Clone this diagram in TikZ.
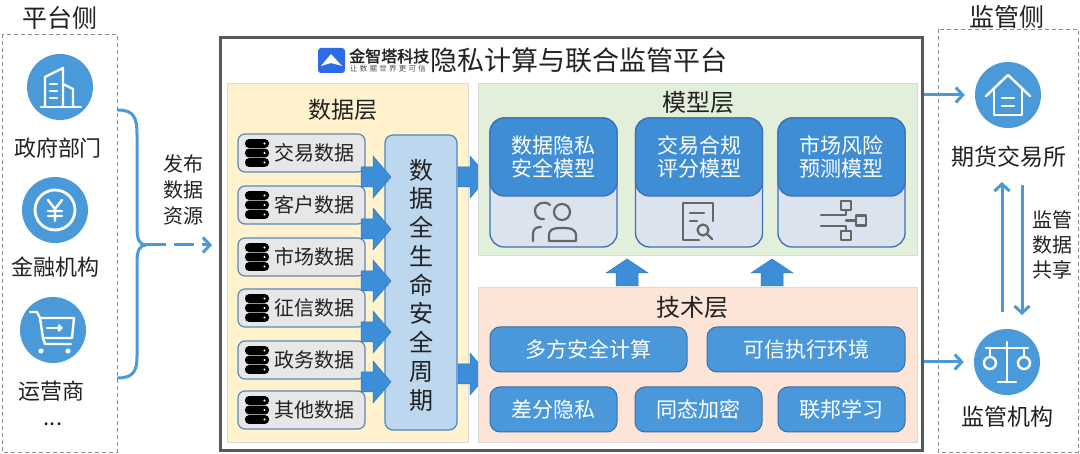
\documentclass[tikz,border=0pt]{standalone}
\usepackage{fontspec}
\setmainfont{Noto Sans CJK SC}[AutoFakeBold=2]
\usetikzlibrary{arrows.meta}
\definecolor{cblue}{HTML}{4A9ADA}
\definecolor{ablue}{HTML}{3D8ED8}
\definecolor{aedge}{HTML}{2F75BA}
\definecolor{mainedge}{HTML}{595959}
\definecolor{dataY}{HTML}{FFF2CC}
\definecolor{modG}{HTML}{E2EFDA}
\definecolor{techP}{HTML}{FCE4D6}
\definecolor{itemG}{HTML}{E7E7E7}
\definecolor{itemE}{HTML}{5B88B5}
\definecolor{lcF}{HTML}{BDD7EE}
\definecolor{lcE}{HTML}{4A86C5}
\definecolor{cardL}{HTML}{DAE3EE}
\definecolor{cardT}{HTML}{3F8DD5}
\definecolor{cardE}{HTML}{3B6FB8}
\definecolor{tboxF}{HTML}{4A98DA}
\definecolor{tboxE}{HTML}{3A6FA8}
\definecolor{icong}{HTML}{666666}
\definecolor{logob}{HTML}{2F6BE6}
\definecolor{txtc}{HTML}{222222}
\newcommand\fsz[2]{\fontsize{#1}{#2}\selectfont}
\newcommand\blkR[1]{\begin{scope}[shift={#1}]\filldraw[blk] (-30,-10) -- (-18,-10) -- (-18,-21) -- (0,0) -- (-18,21) -- (-18,10) -- (-30,10) -- cycle;\end{scope}}
\newcommand\blkU[1]{\begin{scope}[shift={#1}]\filldraw[blk] (-11,27) -- (-11,14) -- (-21,14) -- (0,0) -- (21,14) -- (11,14) -- (11,27) -- cycle;\end{scope}}
\newcommand\dbicon[1]{\begin{scope}[shift={#1}]
  \foreach \k in {-9.5,0,9.5} {\fill[black, rounded corners=4pt] (-12,\k-4.4) rectangle (12,\k+4.4);
  \fill[white] (7.5,\k) circle (1.2);}
\end{scope}}
\begin{document}
\begin{tikzpicture}[x=1pt,y=-1pt,
  txt/.style={inner sep=0pt, text=txtc},
  lbl/.style={txt, font=\fsz{22}{26}},
  circ/.style={circle, fill=cblue, minimum size=66pt, inner sep=0pt},
  dashbox/.style={draw=black!45, line width=0.9pt, dash pattern=on 4pt off 3pt},
  wicon/.style={draw=white, line width=2.4pt, line cap=round, line join=round},
  gicon/.style={draw=icong, line width=2.2pt, line cap=round, line join=round},
  layer/.style={rectangle, draw=black!15, line width=0.8pt, inner sep=0pt},
  item/.style={rectangle, rounded corners=7pt, fill=itemG, draw=itemE, line width=1.2pt, minimum width=127pt, minimum height=38pt, inner sep=0pt},
  blk/.style={fill=ablue, draw=aedge, line width=0.5pt},
  cardbase/.style={rectangle, rounded corners=14pt, fill=cardL, draw=cardE, line width=1.3pt, minimum width=127pt, minimum height=129pt, inner sep=0pt},
  cardtop/.style={rectangle, rounded corners=14pt, fill=cardT, draw=cardE, line width=1.3pt, minimum width=127pt, minimum height=78pt, inner sep=0pt, text=white, font=\fsz{21}{23}, align=center},
  tbox/.style={rectangle, rounded corners=10pt, fill=tboxF, draw=tboxE, line width=1pt, minimum height=45pt, inner sep=0pt, text=white, font=\fsz{21}{23}},
  barrow/.style={draw=cblue, line width=3pt, -{Straight Barb[length=7pt,width=15pt,line width=3pt]}},
  brace/.style={draw=cblue, line width=3pt, line cap=round}]
\useasboundingbox (0,0) rectangle (1080,454);
\fill[white] (0,0) rectangle (1080,454);
% ---------- left: platform side ----------
\node[txt, font=\fsz{25}{28}] (ptitle) at (60,18) {平台侧};
\draw[dashbox] (2,34) rectangle (117,452);
\node[circ] (gov) at (60,87) {};
\node[lbl] (govl) at (58,148) {政府部门};
\node[circ] (fin) at (55,210) {};
\node[lbl] (finl) at (56,267) {金融机构};
\node[circ] (op) at (53,330) {};
\node[lbl] (opl) at (52,391) {运营商};
\node[lbl] (dots) at (53,424) {...};
% building icon
\begin{scope}[shift={(60,87)}]
  \draw[wicon] (-19,20) -- (21,20);
  \draw[wicon] (-15,20) -- (-15,-10) -- (3,-19) -- (3,20);
  \draw[wicon] (3,-3) -- (13,2) -- (13,20);
  \draw[wicon] (-10,-3) -- (-3,-3) (-10,4) -- (-3,4) (-10,11) -- (-3,11);
\end{scope}
% yen icon
\begin{scope}[shift={(55,210)}]
  \draw[wicon, line width=2.8pt] (0,0) circle (20);
  \draw[wicon] (-7,-10) -- (0,-1) -- (7,-10) (0,-1) -- (0,11) (-7,1) -- (7,1) (-7,6) -- (7,6);
\end{scope}
% cart icon
\begin{scope}[shift={(53,330)}]
  \draw[wicon] (-23,-18) -- (-16,-18) -- (-13,-12) -- (21,-12) -- (19,8) -- (-10,8);
  \draw[wicon] (-13,-12) -- (-10,8) -- (-8,14) -- (18,14);
  \fill[white] (-12,21) circle (2.6) (15,21) circle (2.6);
  \draw[wicon, -{Straight Barb[length=3pt,width=6pt]}] (-6,-2) -- (10,-2);
\end{scope}
% brace and publish arrow
\coordinate (btip) at (146,245);
\coordinate (bin) at (212,245);
\draw[brace] (118,110) .. controls (134,110) and (137,118) .. (137,134) -- (137,228) .. controls (137,240) and (140,245) .. (btip);
\draw[brace] (118,378) .. controls (134,378) and (137,370) .. (137,356) -- (137,262) .. controls (137,250) and (140,245) .. (btip);
\draw[barrow, dash pattern=on 20pt off 8pt] (btip) -- (bin);
\node[txt, font=\fsz{20}{26}, align=center] (pub) at (183,190) {发布\\数据\\资源};
% ---------- main platform ----------
\node[rectangle, draw=mainedge, line width=3pt, minimum width=702pt, minimum height=413pt, inner sep=0pt] (main) at (571,244.5) {};
\fill[logob, rounded corners=3pt] (318,48) rectangle (345,73);
\fill[white] (321,66) -- (331,54) -- (342,66) -- (331,63) -- cycle;
\node[txt, anchor=west, font=\bfseries\fsz{16}{16}] (logo) at (349,56) {金智塔科技};
\node[txt, anchor=west, font=\fsz{7.5}{8}\addfontfeature{LetterSpace=30}, text=black!70] (slogan) at (350,68.5) {让数据世界更可信};
\node[txt, font=\fsz{27}{28}] (title) at (579,60) {隐私计算与联合监管平台};
% data layer
\node[layer, fill=dataY, minimum width=241pt, minimum height=359pt] (dl) at (347.5,262.5) {};
\node[txt, font=\fsz{23}{26}] (dlt) at (343,110) {数据层};
\foreach \y/\t/\n in {153/交易数据/d1,205/客户数据/d2,257/市场数据/d3,308/征信数据/d4,360/政务数据/d5,410/其他数据/d6} {
  \node[item] (\n) at (301.5,\y) {};
  \dbicon{(257,\y)}
  \node[txt, anchor=west, font=\fsz{20}{22}] at (274,\y) {\t};
}
\node[rectangle, rounded corners=8pt, fill=lcF, draw=lcE, line width=1.2pt, minimum width=72pt, minimum height=295pt, inner sep=0pt] (lc) at (421,282.5) {};
\node[txt, font=\fsz{24}{28.75}, align=center] (lct) at (421,285) {数\\据\\全\\生\\命\\安\\全\\周\\期};
\foreach \y in {177,229,281,332,382} {\blkR{(391,\y)}}
\blkR{(488,177)}
\blkR{(488,374)}
% model layer
\node[layer, fill=modG, minimum width=439pt, minimum height=172pt] (ml) at (697.5,169) {};
\node[txt, font=\fsz{24}{26}] (mlt) at (698,102) {模型层};
\foreach \x/\t/\n in {553.5/{数据隐私\\安全模型}/m1, 699/{交易合规\\评分模型}/m2, 841.5/{市场风险\\预测模型}/m3} {
  \node[cardbase] (\n) at (\x,182.5) {};
  \node[cardtop] (\n t) at (\x,157) {\t};
}
% person icon
\draw[gicon] (562,212) circle (8);
\draw[gicon] (549,241) -- (549,236) .. controls (549,229) and (553,228) .. (562,228) .. controls (571,228) and (576,229) .. (576,236) -- (576,241) -- cycle;
\draw[gicon] (550,205) .. controls (545,200) and (535,203) .. (535,211) .. controls (535,217) and (540,220) .. (544,219);
\draw[gicon] (533,241) -- (533,234) .. controls (533,229) and (536,227) .. (541,227);
% document icon
\draw[gicon] (699,240) -- (683,240) -- (683,203) -- (713,203) -- (713,221);
\draw[gicon] (690,213) -- (704,213) (690,221) -- (697,221);
\draw[gicon] (703,230) circle (5.5);
\draw[gicon] (707.5,234.5) -- (712,239);
% flow icon
\draw[gicon] (821,215) -- (846,215) -- (846,210);
\draw[gicon] (821,226) -- (846,226) -- (846,231);
\draw[gicon] (841,201) rectangle (851,210);
\draw[gicon] (841,231) rectangle (851,240);
\draw[gicon] (846,220.5) -- (856,220.5);
\draw[gicon] (856,215.5) rectangle (866,225.5);
% up arrows
\blkU{(627,259)}
\blkU{(772,259)}
% tech layer
\node[layer, fill=techP, minimum width=439pt, minimum height=155pt] (tl) at (697.5,364.5) {};
\node[txt, font=\fsz{24}{26}] (tlt) at (692,307) {技术层};
\node[tbox, minimum width=197pt] (t1) at (588.5,349.5) {多方安全计算};
\node[tbox, minimum width=198pt] (t2) at (806,349.5) {可信执行环境};
\node[tbox, minimum width=127pt] (t3) at (553.5,409.5) {差分隐私};
\node[tbox, minimum width=127pt] (t4) at (698.5,409.5) {同态加密};
\node[tbox, minimum width=127pt] (t5) at (841.5,409.5) {联邦学习};
% ---------- right: regulator side ----------
\node[txt, font=\fsz{25}{28}] (rtitle) at (1007,17) {监管侧};
\draw[dashbox] (938,29) rectangle (1078,452);
\node[circ] (exch) at (1008,95) {};
\node[txt, font=\fsz{23}{26}] (exl) at (1009,157) {期货交易所};
\node[circ] (reg) at (1007,362) {};
\node[txt, font=\fsz{23}{26}] (regl) at (1007,417) {监管机构};
% house icon
\begin{scope}[shift={(1008,95)}]
  \draw[wicon] (-22,1) -- (0,-20) -- (22,1);
  \draw[wicon] (-14,-6) -- (-14,20) -- (14,20) -- (14,-6);
  \draw[wicon] (-6,3) -- (6,3) (-6,11) -- (6,11);
\end{scope}
% scale icon
\begin{scope}[shift={(1007,362)}]
  \draw[wicon] (-21,-14) -- (21,-14) (0,-20) -- (0,20) (-9,20) -- (9,20);
  \draw[wicon] (-17,-14) -- (-17,-5) (17,-14) -- (17,-5);
  \draw[wicon] (-17,1) circle (6) (17,1) circle (6);
\end{scope}
\coordinate (up1) at (1002,312);
\coordinate (up2) at (1002,182);
\coordinate (dn1) at (1022,185);
\coordinate (dn2) at (1022,315);
\draw[barrow, shorten >=10pt] (main.east |- exch) -- (exch.west);
\draw[barrow, shorten >=10pt] (main.east |- reg) -- (reg.west);
\draw[barrow] (up1) -- (up2);
\draw[barrow] (dn1) -- (dn2);
\node[txt, font=\fsz{20}{25}, align=center] (share) at (1052,245) {监管\\数据\\共享};
\end{tikzpicture}
\end{document}
